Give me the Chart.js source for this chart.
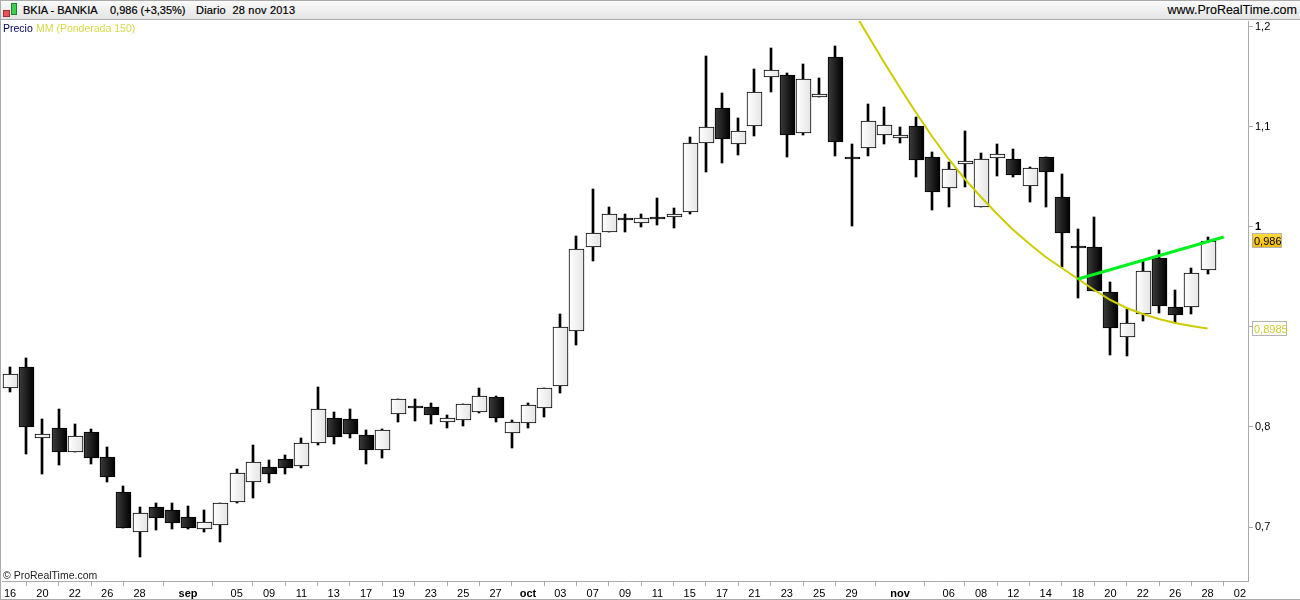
<!DOCTYPE html>
<html lang="es">
<head>
<meta charset="utf-8">
<title>BKIA - BANKIA</title>
<script src="https://cdn.jsdelivr.net/npm/chart.js@4"></script>
<style>
    html, body { margin: 0; padding: 0; background: #fff; }
    #marco { position: relative; width: 1300px; height: 600px; overflow: hidden; font: 11px "Liberation Sans", Arial, sans-serif; color: #000; }
    canvas { display: block; position: absolute; left: 0; top: 0; }
    .borde { position: absolute; background: #ababab; }
    #cabecera { position: absolute; left: 0; top: 0; width: 1300px; height: 20px; background: linear-gradient(#fafafa, #e4e4e4); border-top: 1px solid #ababab; border-bottom: 1px solid #ababab; box-sizing: border-box; }
    .txt { position: absolute; white-space: pre; -webkit-text-stroke: 0.2px #000; line-height: 13px; }
    .fino { -webkit-text-stroke: 0; font-size: 10.5px; }
    .vela { position: absolute; border: 1px solid #555; box-sizing: border-box; }
</style>
</head>
<body>
<div id="marco">
    <canvas id="grafico" width="1300" height="600"></canvas>
    <div id="cabecera">
        <div class="vela" style="left:3px;top:9px;width:7px;height:7px;background:#e8505a;border-color:#a03038"></div>
        <div class="vela" style="left:11px;top:2px;width:6px;height:12px;background:#3fd04f;border-color:#208030"></div>
        <div class="txt" style="left:23px;top:3px">BKIA - BANKIA</div>
        <div class="txt" style="left:110px;top:3px">0,986 (+3,35%)</div>
        <div class="txt" style="left:196px;top:3px;letter-spacing:0.2px">Diario  28 nov 2013</div>
        <div class="txt" style="right:3px;top:3px;font-size:12.5px;-webkit-text-stroke:0.1px #000">www.ProRealTime.com</div>
    </div>
    <div class="txt fino" style="left:3px;top:22px;color:#000060">Precio</div>
    <div class="txt fino" style="left:36px;top:22px;color:#d8d84a">MM (Ponderada 150)</div>
    <div class="txt fino" style="left:3px;top:569px;color:#222">© ProRealTime.com</div>
    <div class="borde" style="left:0;top:0;width:1px;height:600px"></div>
    <div class="borde" style="left:0;top:599px;width:1300px;height:1px"></div>
</div>

<script>
// ── Datos ─────────────
const dias = ['16','19','20','21','22','23','26','27','28','29','30','sep','03','04','05','06','09','10','11','12','13','16','17','18','19','20','23','24','25','26','27','30','oct','02','03','04','07','08','09','10','11','14','15','16','17','18','21','22','23','24','25','28','29','30','31','nov','04','05','06','07','08','11','12','13','14','15','18','19','20','21','22','25','26','27','28','29','02'];
const indicesEje = [0,2,4,6,8,11,14,16,18,20,22,24,26,28,30,32,34,36,38,40,42,44,46,48,50,52,55,58,60,62,64,66,68,70,72,74,76];
const valoresY = [1.2, 1.1, 1, 0.9, 0.8, 0.7];

const aperturas = [.839,.860,.789,.799,.775,.795,.770,.735,.695,.720,.717,.710,.698,.702,.725,.745,.760,.768,.761,.784,.809,.808,.792,.777,.813,.821,.820,.805,.807,.815,.830,.794,.804,.819,.841,.896,.980,.995,1.009,1.004,1.010,1.010,1.015,1.084,1.119,1.083,1.101,1.150,1.152,1.094,1.130,1.170,1.070,1.079,1.092,1.089,1.101,1.070,1.039,1.063,1.020,1.069,1.068,1.041,1.070,1.030,.981,.980,.935,.890,.913,.969,.920,.920,.957];
const cierres   = [.853,.800,.793,.775,.791,.769,.750,.699,.714,.709,.704,.699,.705,.724,.754,.765,.753,.759,.784,.818,.790,.793,.777,.797,.828,.819,.812,.809,.823,.831,.809,.805,.822,.839,.900,.978,.994,1.013,1.007,1.009,1.008,1.013,1.084,1.100,1.088,1.096,1.135,1.157,1.092,1.148,1.133,1.085,1.068,1.106,1.102,1.092,1.067,1.035,1.058,1.066,1.068,1.073,1.052,1.059,1.055,.994,.979,.936,.899,.904,.956,.921,.912,.954,.986];
const maximos   = [.860,.869,.808,.818,.803,.798,.780,.741,.720,.724,.724,.721,.717,.724,.758,.782,.767,.772,.789,.840,.815,.818,.797,.798,.828,.828,.824,.812,.823,.839,.831,.807,.824,.839,.913,.991,1.038,1.020,1.013,1.013,1.029,1.019,1.090,1.171,1.134,1.109,1.158,1.179,1.154,1.163,1.149,1.181,1.083,1.123,1.120,1.100,1.110,1.075,1.065,1.096,1.074,1.083,1.078,1.060,1.070,1.053,.998,1.010,.945,.918,.966,.977,.937,.959,.990];
const minimos   = [.835,.773,.753,.762,.775,.763,.745,.699,.670,.697,.698,.698,.695,.685,.724,.729,.744,.753,.759,.782,.783,.789,.763,.769,.805,.806,.803,.799,.801,.814,.805,.779,.799,.810,.834,.882,.966,.995,.995,1.000,1.002,.999,1.013,1.055,1.064,1.072,1.091,1.135,1.070,1.092,1.130,1.071,1.001,1.071,1.083,1.084,1.050,1.017,1.020,1.040,1.020,1.051,1.050,1.025,1.020,.960,.929,.936,.872,.871,.906,.914,.904,.913,.953];

// media ponderada 150, solo visible desde finales de octubre
const mediaMovil = new Array(52).fill(null).concat([1.219,1.192,1.165,1.139,1.114,1.090,1.068,1.048,1.030,1.013,.997,.983,.970,.959,.948,.937,.927,.919,.913,.908,.904,.901,.8985]);
// directriz verde
const directriz = new Array(66).fill(null).concat([.948,null,null,null,null,null,null,null,null,.990]);

const ultimoPrecio = cierres[cierres.length - 1];
const ultimaMedia = mediaMovil[mediaMovil.length - 1];

const coma = (v) => String(v).replace('.', ',');

// ── Plugins ─────────────
// las velas del original caen en pixel entero
const ajustePixel = {
    id: 'ajustePixel',
    afterDatasetsUpdate(chart) {
        chart.data.datasets.forEach((ds, i) => {
            if (ds.type !== 'bar') return;
            chart.getDatasetMeta(i).data.forEach((el) => {
                el.x = Math.round(el.x) + (ds.label === 'cuerpo' ? 0.5 : 0);
                el.y = Math.round(el.y);
                el.base = Math.round(el.base);
            });
        });
    }
};

// cajitas del último valor en el eje de precios
const cajasPrecio = {
    id: 'cajasPrecio',
    afterDraw(chart) {
        const c = chart.ctx;
        const y = chart.scales.y;
        const xCaja = chart.chartArea.right + 4;

        c.save();
        c.font = '11px "Liberation Sans", Arial, sans-serif';
        c.textBaseline = 'middle';
        c.textAlign = 'left';

        const yp = Math.round(y.getPixelForValue(ultimoPrecio));
        const g = c.createLinearGradient(0, yp - 8, 0, yp + 7);
        g.addColorStop(0, '#ffdc40');
        g.addColorStop(1, '#f5b800');
        c.fillStyle = g;
        c.fillRect(xCaja, yp - 8, 30, 15);
        c.strokeStyle = '#b4b4b4';
        c.strokeRect(xCaja + 0.5, yp - 7.5, 29, 14);
        c.fillStyle = '#000';
        c.fillText(coma(ultimoPrecio), xCaja + 2, yp + 1);

        const ym = Math.round(y.getPixelForValue(ultimaMedia));
        c.fillStyle = '#fff';
        c.fillRect(xCaja, ym - 8, 35, 15);
        c.strokeRect(xCaja + 0.5, ym - 7.5, 34, 14);
        c.fillStyle = '#cccc33';
        c.fillText(coma(ultimaMedia), xCaja + 2, ym + 1);
        c.restore();
    }
};

// ── Gráfico ─────────────
(function () {
    const ctx = document.getElementById('grafico');

    function rellenoVela(context) {
        const i = context.dataIndex;
        if (i === undefined) return '#fff';
        const x = Math.round(context.chart.scales.x.getPixelForValue(i));
        if (!Number.isFinite(x)) return '#fff';
        const g = context.chart.ctx.createLinearGradient(x - 7, 0, x + 8, 0);
        if (cierres[i] >= aperturas[i]) {
            g.addColorStop(0, '#ffffff');
            g.addColorStop(1, '#e4e4e4');
        } else {
            g.addColorStop(0, '#3c3c3c');
            g.addColorStop(1, '#000000');
        }
        return g;
    }

    new Chart(ctx, {
        data: {
            labels: dias,
            datasets: [
                { type: 'line', label: 'directriz', data: directriz, borderColor: '#00f020', borderWidth: 3, pointRadius: 0, spanGaps: true, order: 1 },
                { type: 'line', label: 'MM', data: mediaMovil, borderColor: '#cccc00', borderWidth: 2, pointRadius: 0, order: 2 },
                { type: 'bar', label: 'cuerpo', data: aperturas.map((a, i) => [a, cierres[i]]), backgroundColor: rellenoVela, borderColor: '#000', borderWidth: 1, borderSkipped: false, barThickness: 15, grouped: false, order: 3 },
                { type: 'bar', label: 'mecha', data: minimos.map((m, i) => [m, maximos[i]]), backgroundColor: '#000', borderWidth: 0, barThickness: 2, grouped: false, order: 4 }
            ]
        },
        options: {
            responsive: false,
            animation: false,
            events: [],
            layout: { autoPadding: false, padding: { left: 2, top: 21, right: 0, bottom: 0 } },
            scales: {
                x: {
                    offset: true,
                    afterBuildTicks: (axis) => { axis.ticks = indicesEje.map((i) => ({ value: i })); },
                    afterFit: (axis) => { axis.height = 19; },
                    border: { color: '#ababab', width: 1 },
                    grid: { drawOnChartArea: false, tickLength: 5, tickColor: '#ababab', tickWidth: 1 },
                    ticks: {
                        autoSkip: false,
                        maxRotation: 0,
                        padding: 1,
                        color: '#000',
                        font: (c) => ({
                            family: '"Liberation Sans", Arial, sans-serif',
                            size: 11,
                            weight: ['sep', 'oct', 'nov'].includes(dias[c.tick && c.tick.value]) ? 'bold' : 'normal'
                        }),
                        callback: (v) => dias[v]
                    }
                },
                y: {
                    position: 'right',
                    min: 0.646,
                    max: 1.206,
                    afterBuildTicks: (axis) => { axis.ticks = valoresY.map((v) => ({ value: v })); },
                    afterFit: (axis) => { axis.width = 52; },
                    border: { color: '#ababab', width: 1 },
                    grid: { drawOnChartArea: false, tickLength: 5, tickColor: '#ababab', tickWidth: 1 },
                    ticks: {
                        padding: 2,
                        color: '#000',
                        font: (c) => ({
                            family: '"Liberation Sans", Arial, sans-serif',
                            size: 11,
                            weight: c.tick && c.tick.value === 1 ? 'bold' : 'normal'
                        }),
                        // el 0,9 queda tapado por la caja de la media
                        callback: (v) => (v === 0.9 ? '' : coma(v))
                    }
                }
            },
            plugins: {
                legend: { display: false },
                tooltip: { enabled: false }
            }
        },
        plugins: [ajustePixel, cajasPrecio]
    });
})();
</script>
</body>
</html>
